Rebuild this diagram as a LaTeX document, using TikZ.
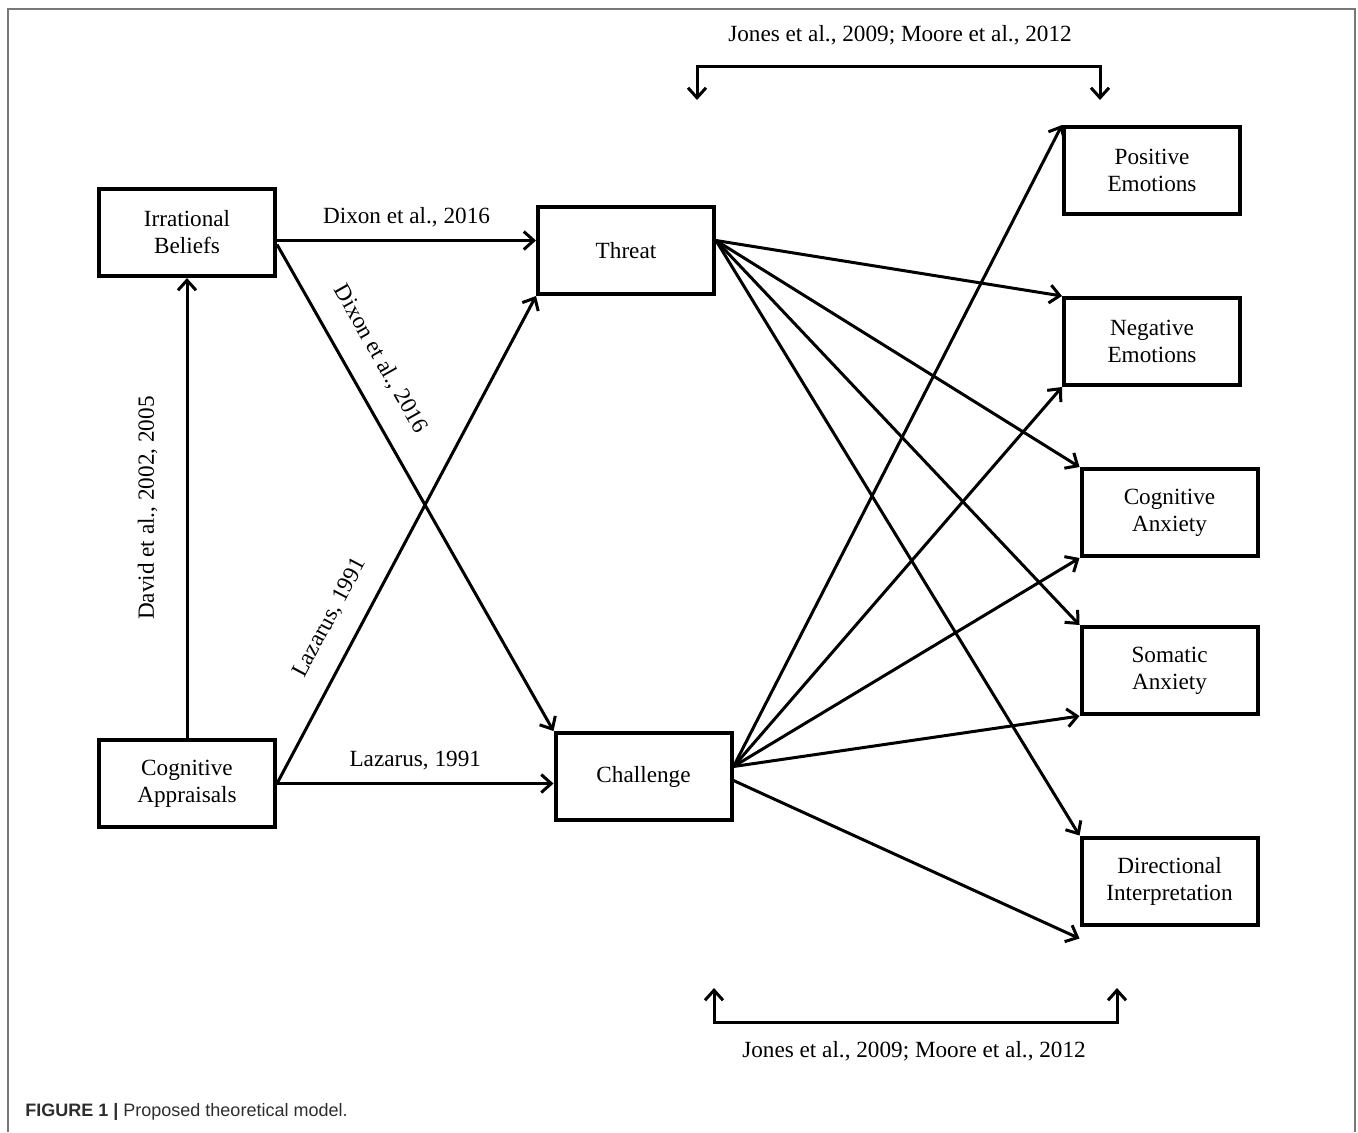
\documentclass[tikz,border=0pt]{standalone}
\usepackage{fontspec}
\setmainfont{Liberation Serif}
\newfontfamily\capfont{Liberation Sans}
\usepackage{tikz}
\usetikzlibrary{arrows.meta, positioning}
\definecolor{framegrey}{RGB}{120,120,120}
\definecolor{capgrey}{RGB}{45,45,45}
\tikzstyle{construct} = [rectangle, draw=black, line width=2pt, minimum width=88pt, minimum height=43.5pt, align=center, font=\fontsize{11.6}{13.5}\selectfont]
\tikzstyle{cite} = [font=\fontsize{11.6}{13.5}\selectfont, inner sep=2pt]
\tikzstyle{path} = [-{Straight Barb[length=5pt,width=9pt,line width=1.5pt]}, line width=1.5pt]
\tikzstyle{twoway} = [{Straight Barb[length=5pt,width=9pt,line width=1.5pt]}-{Straight Barb[length=5pt,width=9pt,line width=1.5pt]}, line width=1.5pt]

\begin{document}
\begin{tikzpicture}[x=0.5pt, y=-0.5pt]

  \useasboundingbox (0,0) rectangle (1358,1132);
  \draw [framegrey, line width=1pt] (8,1132) -- (8,9) -- (1355,9) -- (1355,1132);

  % appraisal side
  \node[construct] (irr)  at (187,232.5) {Irrational\\Beliefs};
  \node[construct] (capp) at (187,783.5) {Cognitive\\Appraisals};
  \node[construct] (threat) at (626,250.5) {Threat};
  \node[construct] (chal)   at (643.5,776.5) {Challenge};

  % outcomes
  \node[construct] (pos) at (1152,170.5)  {Positive\\Emotions};
  \node[construct] (neg) at (1152,341.5)  {Negative\\Emotions};
  \node[construct] (cog) at (1169.5,512.5) {Cognitive\\Anxiety};
  \node[construct] (som) at (1169.5,670.5) {Somatic\\Anxiety};
  \node[construct] (dir) at (1169.5,881)   {Directional\\Interpretation};

  \draw [path] ([yshift=-4pt]irr.east) -- ([yshift=-4pt]irr.east -| threat.west)
        node[cite, midway, above=4pt] {Dixon et al., 2016};
  \draw [path] ([yshift=-6pt]irr.east) -- (chal.north west)
        node[cite, pos=.27, sloped, above=9pt] {Dixon et al., 2016};
  \draw [path] (capp.east) -- (capp.east -| chal.west)
        node[cite, midway, above=4pt] {Lazarus, 1991};
  \draw [path] (capp.east) -- (threat.south west)
        node[cite, pos=.31, sloped, above=8pt] {Lazarus, 1991};
  \draw [path] (capp.north) -- (irr.south)
        node[cite, midway, sloped, above=12pt] {David et al., 2002, 2005};

  \foreach \o in {neg,cog,som,dir}{
    \draw [path] ([yshift=5pt]threat.east) -- (\o.north west);
  }
  \foreach \o in {pos.north west,neg.south west,cog.south west,som.south west}{
    \draw [path] ([yshift=5pt]chal.east) -- (\o);
  }
  \draw [path] ([yshift=-2pt]chal.east) -- ([yshift=-6pt]dir.south west);

  % reciprocal links between outcomes
  \node[cite] (jtop) at (900,35) {Jones et al., 2009; Moore et al., 2012};
  \coordinate (tl) at (697,100);
  \coordinate (tr) at (1100,100);
  \draw [twoway] (tl) -- (697,66) -- (1100,66) -- (tr);

  \node[cite] (jbot) at (914,1051) {Jones et al., 2009; Moore et al., 2012};
  \coordinate (bl) at (714,988);
  \coordinate (br) at (1117,988);
  \draw [twoway] (bl) -- (714,1022) -- (1117,1022) -- (br);

  \node[anchor=west, inner sep=0pt, text=capgrey, font=\capfont\fontsize{9}{11}\selectfont] (cap) at (25,1112)
        {\textbf{FIGURE 1 |} Proposed theoretical model.};

\end{tikzpicture}
\end{document}
